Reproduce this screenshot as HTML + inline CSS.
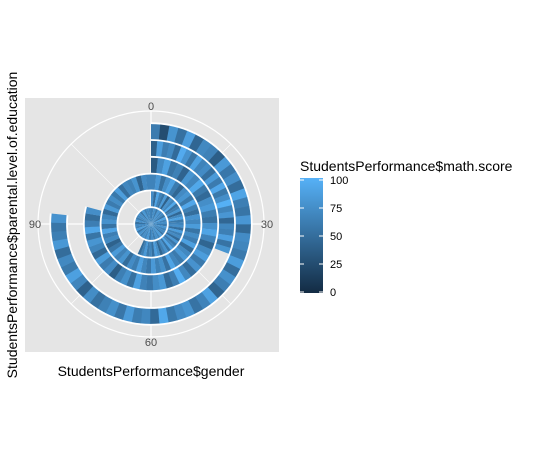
<!DOCTYPE html>
<html><head><meta charset="utf-8"><style>
body{margin:0;background:#fff;}
svg{display:block;font-family:"Liberation Sans",sans-serif;}
</style></head><body>
<svg id="chart" width="538" height="476" viewBox="0 0 538 476">
<defs><linearGradient id="cb" x1="0" y1="1" x2="0" y2="0">
<stop offset="0" stop-color="#132B43"/><stop offset="1" stop-color="#56B1F7"/></linearGradient></defs>
<rect x="25" y="98" width="254" height="254" fill="#e5e5e5"/>
<g id="grid"></g>
<g id="under"></g>
<g id="bars"></g>
<g id="labels" font-size="11" fill="#4d4d4d"></g>
<text x="151" y="376" font-size="14" text-anchor="middle" fill="#000">StudentsPerformance$gender</text>
<text transform="translate(17,225) rotate(-90)" font-size="14" text-anchor="middle" fill="#000">StudentsPerformance$parental.level.of.education</text>
<text x="300" y="171" font-size="14" fill="#000">StudentsPerformance$math.score</text>
<rect x="300" y="178" width="23" height="115" fill="url(#cb)"/>
<g id="legend" font-size="11" fill="#000"></g>
</svg>
<script>
const ringExtents = [120, 68, 120, 95, 37, 92];
const scoreRing0 = [62,75,58,80,69,71,55,88,66,73,60,79,64,70,57,84,68,76,61,72,59,81,67,74,63,78,56,85,65,71,52,77,60,69,74,58,81,63,70,66];
const scoreRing1 = [72,48,90,65,55,83,40,77,68,93,52,61,79,45,70,88,58,66,74,50,85,63,71,47,80,57,69,91,54,76,62,44,73,86,51,67,59,82,64,49];
const scoreRing2 = [66,80,52,74,88,60,45,71,79,58,92,63,50,77,69,84,55,73,62,87,48,70,81,59,67,90,53,75,64,82,57,68,86,61,72,49,78,65,83,56,41,70,62,89,54,76,67,47,81,60,73,58,85,51,69,64,78,43,71,66];
const scoreRing3 = [35,71,88,55,64,42,79,68,93,58,47,74,82,61,53,76,90,66,44,70,85,59,77,50,69,96,62,48,81,73,57,65,87,52,75,63,38,72,60,84,46,67,79,55,91,62,49,74];
const scoreRing4 = [40,85,62,70,48,95,77,55,88,66,72,51,83,60,92,58,74,99,67,80,45,69,63,86,54,78];
const scoreRing5 = [60,25,78,52,86,44,70,65,38,82,57,74,49,90,63,55,80,46,72,68,59,85,50,76,62,43,88,66,54,79,71,58,93,47,69,61,83,56,75,64,52,73,41,67,87,58,70,49,81,63,56,77];
const scoreRings = [scoreRing0, scoreRing1, scoreRing2, scoreRing3, scoreRing4, scoreRing5];
const thetaTicks = [0, 30, 60, 90];
const thetaMinor = [15, 45, 75, 105];
const legendTicks = [0, 25, 50, 75, 100];

const NS = "http://www.w3.org/2000/svg";
const cx = 151, cy = 224, RMAX = 113, RING = 16.8, FULL = 120, GAP = 0.9;
const ang = v => v / FULL * 2 * Math.PI;
const px = (r, a) => cx + r * Math.sin(a);
const py = (r, a) => cy - r * Math.cos(a);
function col(s) {
  const t = Math.max(0, Math.min(1, s / 100));
  const a = [0x13, 0x2B, 0x43], b = [0x56, 0xB1, 0xF7];
  return "rgb(" + a.map((v, i) => Math.round(v + (b[i] - v) * t)).join(",") + ")";
}
function mk(tag, attrs, parent) {
  const e = document.createElementNS(NS, tag);
  for (const k in attrs) e.setAttribute(k, attrs[k]);
  parent.appendChild(e);
  return e;
}
const grid = document.getElementById("grid");
let e = mk("circle", {cx, cy, r: RMAX, fill: "none", stroke: "#fff", "stroke-width": 1.2}, grid);


thetaTicks.forEach(v => {
  const a = ang(v);
  const l = mk("line", {x1: cx, y1: cy, x2: px(RMAX, a), y2: py(RMAX, a), stroke: "#fff", "stroke-width": 1.2}, grid);
  
  
});
thetaMinor.forEach(v => {
  const a = ang(v);
  const l = mk("line", {x1: cx, y1: cy, x2: px(RMAX, a), y2: py(RMAX, a), stroke: "#fff", "stroke-width": 0.6}, grid);
  
  
});
const under = document.getElementById("under");
const bars = document.getElementById("bars");
function sector(r0, r1, a0, a1) {
  const large = (a1 - a0) > Math.PI ? 1 : 0;
  if (a1 - a0 >= 2 * Math.PI - 1e-6) a1 = a0 + 2 * Math.PI - 0.0005;
  if (r0 <= 0) {
    return `M${cx},${cy} L${px(r1,a0)},${py(r1,a0)} A${r1},${r1} 0 ${large} 1 ${px(r1,a1)},${py(r1,a1)} Z`;
  }
  return `M${px(r0,a0)},${py(r0,a0)} L${px(r1,a0)},${py(r1,a0)} A${r1},${r1} 0 ${large} 1 ${px(r1,a1)},${py(r1,a1)} L${px(r0,a1)},${py(r0,a1)} A${r0},${r0} 0 ${large} 0 ${px(r0,a0)},${py(r0,a0)} Z`;
}
scoreRings.forEach((scores, i) => {
  const r0 = i === 0 ? 0 : i * RING + GAP, r1 = (i + 1) * RING - GAP;
  const u = mk("path", {d: sector(Math.max(0, r0 - 1.8), r1 + 1.8, 0, ang(ringExtents[i])), fill: "#ffffff"}, under);
  
  
  const step = ringExtents[i] / scores.length;
  scores.forEach((s, j) => {
    const a0 = ang(j * step), a1 = ang((j + 1) * step) + (j < scores.length - 1 ? 0.004 : 0);
    const p = mk("path", {d: sector(r0, r1, a0, a1), fill: col(s)}, bars);
    
    
  });
});
const lab = document.getElementById("labels");
thetaTicks.forEach(v => {
  const a = ang(v);
  const t = mk("text", {x: px(116, a), y: py(118, a) + 4, "text-anchor": "middle"}, lab);
  t.textContent = v;
  
  
});
const lg = document.getElementById("legend");
legendTicks.forEach(v => {
  const y = 292 - v / 100 * 112;
  const l1 = mk("line", {x1: 300, x2: 304, y1: y, y2: y, stroke: "#fff", "stroke-width": 1}, lg);
  
  
  const l2 = mk("line", {x1: 319, x2: 323, y1: y, y2: y, stroke: "#fff", "stroke-width": 1}, lg);
  
  
  const t = mk("text", {x: 330, y: y + 4}, lg);
  t.textContent = v;
  
  
});
</script>
</body></html>
